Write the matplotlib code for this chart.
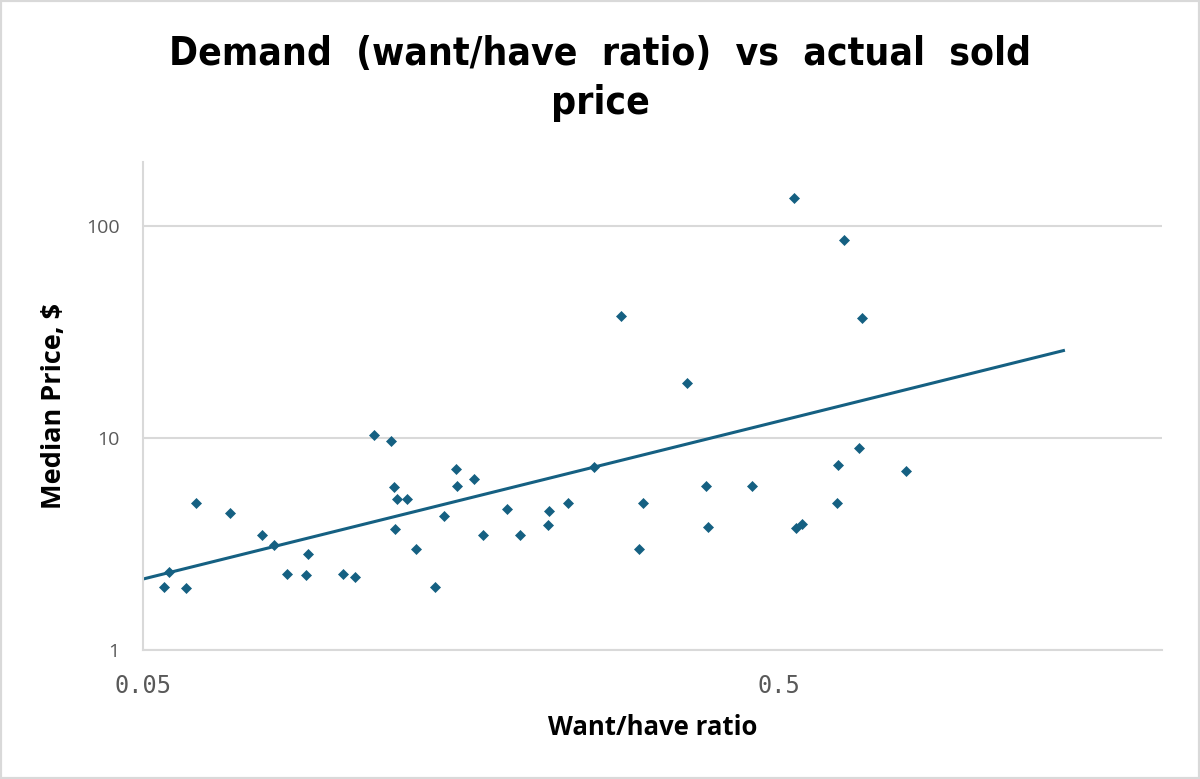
import numpy as np
import matplotlib.pyplot as plt
from matplotlib.patches import Rectangle
from matplotlib.ticker import FixedLocator, FixedFormatter, NullLocator

# Data
want_have_ratio = [
    0.0540, 0.0550, 0.0585, 0.0605, 0.0686, 0.0770, 0.0802, 0.0843, 0.0901, 0.0908,
    0.1033, 0.1077, 0.1155, 0.1229, 0.1241, 0.1252, 0.1302, 0.1246, 0.1344, 0.1438,
    0.1484, 0.1552, 0.1557, 0.1657, 0.1714, 0.1865, 0.1955, 0.2166, 0.2177, 0.2327,
    0.2560, 0.3006, 0.3050, 0.3578, 0.2826, 0.3841, 0.3861, 0.4535, 0.528, 0.5323,
    0.543, 0.619, 0.617, 0.632, 0.669, 0.675, 0.793,
]
median_price = [
    1.98, 2.33, 1.95, 4.95, 4.42, 3.47, 3.11, 2.28, 2.25, 2.82,
    2.28, 2.21, 10.3, 9.64, 5.86, 5.17, 5.17, 3.73, 2.99, 1.98,
    4.30, 7.15, 5.95, 6.39, 3.47, 4.62, 3.47, 3.88, 4.50, 4.95,
    7.27, 2.98, 4.95, 18.1, 37.3, 5.95, 3.79, 5.95, 135.0, 3.76,
    3.92, 7.47, 4.95, 85.9, 8.93, 36.8, 6.94,
]

# Power trendline y = a * x^b, drawn between these x values
trend_a = 20.06
trend_b = 0.744
trend_x = [0.05, 1.4]

x_ticks = [0.05, 0.5]
x_tick_labels = ["0.05", "0.5"]
y_ticks = [1, 10, 100]
y_tick_labels = ["1", "10", "100"]

color = "#156082"
grid_color = "#d9d9d9"

fig = plt.figure(figsize=(12, 7.79), dpi=100)
ax = fig.add_axes([0.1192, 0.1656, 0.8491, 0.6268])

ax.set_xscale("log")
ax.set_yscale("log")
ax.set_xlim(0.05, 2)
ax.set_ylim(1, 200)

# trendline
tx = np.geomspace(trend_x[0], trend_x[1], 50)
ax.plot(tx, trend_a * tx ** trend_b, color=color, linewidth=2.2, zorder=2)

ax.plot(
    want_have_ratio,
    median_price,
    linestyle="none",
    marker="D",
    markersize=5,
    color=color,
    markeredgewidth=0.5,
    zorder=3,
)

# axes styling
for side in ["top", "right"]:
    ax.spines[side].set_visible(False)
ax.spines["left"].set_color(grid_color)
ax.spines["left"].set_linewidth(1.5)
ax.spines["bottom"].set_color(grid_color)
ax.spines["bottom"].set_linewidth(1.5)

ax.yaxis.set_major_locator(FixedLocator(y_ticks))
ax.yaxis.set_major_formatter(FixedFormatter(y_tick_labels))
ax.yaxis.set_minor_locator(NullLocator())
ax.xaxis.set_major_locator(FixedLocator(x_ticks))
ax.xaxis.set_major_formatter(FixedFormatter(x_tick_labels))
ax.xaxis.set_minor_locator(NullLocator())

ax.grid(axis="y", color=grid_color, linewidth=1.5)
ax.set_axisbelow(True)

ax.tick_params(axis="both", length=0)
ax.tick_params(axis="y", labelsize=14, labelcolor="#595959", pad=17)
ax.tick_params(axis="x", labelsize=17, labelcolor="#595959", pad=17)
for lbl in ax.get_yticklabels():
    lbl.set_fontfamily("Open Sans")
for lbl in ax.get_xticklabels():
    lbl.set_fontfamily("DejaVu Sans Mono")

ax.set_ylabel("Median Price, $", fontsize=19.5, fontweight="bold", family="Open Sans")
ax.yaxis.set_label_coords(-0.0746, 0.5)
ax.set_xlabel("Want/have ratio", fontsize=18.5, fontweight="bold", family="Open Sans", labelpad=12)

fig.text(
    0.5, 0.899,
    "Demand  (want/have  ratio)  vs  actual  sold\nprice",
    ha="center", va="center",
    fontsize=28, fontweight="bold", family="DejaVu Sans", fontstretch="condensed",
    linespacing=1.35,
)

# light gray outer border
fig.patches.append(
    Rectangle((0, 0), 1, 1, transform=fig.transFigure, fill=False,
              edgecolor=grid_color, linewidth=3)
)

fig.savefig("out.png", dpi=100)
